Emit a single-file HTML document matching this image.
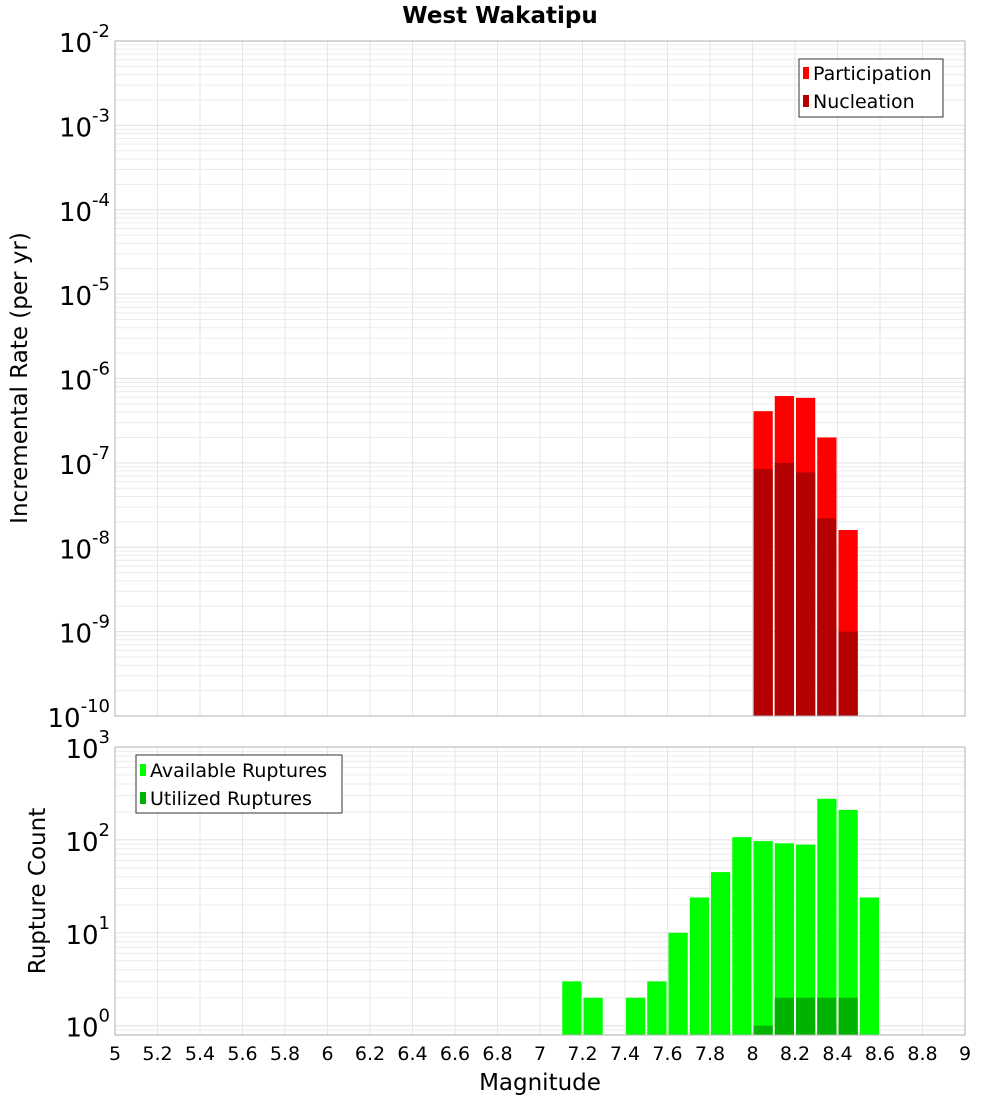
<!DOCTYPE html>
<html><head><meta charset="utf-8"><style>
body{margin:0;background:#fff;font-family:"Liberation Sans","DejaVu Sans",sans-serif}
svg text{font-family:"DejaVu Sans","Liberation Sans",sans-serif}
</style></head><body>
<svg id="c" width="1000" height="1100" xmlns="http://www.w3.org/2000/svg"></svg>
<script>
const mags=[8.05,8.15,8.25,8.35,8.45];
const participation=[4.1e-7,6.2e-7,5.9e-7,2.0e-7,1.6e-8];
const nucleation=[8.5e-8,1.0e-7,7.7e-8,2.2e-8,1.0e-9];
const countMags=[7.15,7.25,7.45,7.55,7.65,7.75,7.85,7.95,8.05,8.15,8.25,8.35,8.45,8.55];
const available=[3,2,2,3,10,24,45,107,97,92,89,277,210,24];
const utilMags=[8.05,8.15,8.25,8.35,8.45];
const utilized=[1,2,2,2,2];
const xTicks=[5,5.2,5.4,5.6,5.8,6,6.2,6.4,6.6,6.8,7,7.2,7.4,7.6,7.8,8,8.2,8.4,8.6,8.8,9];
const topExp=[-2,-3,-4,-5,-6,-7,-8,-9,-10];
const botExp=[3,2,1,0];

const NS="http://www.w3.org/2000/svg";
const svg=document.getElementById('c');
function el(t,a,p){const e=document.createElementNS(NS,t);for(const k in a)e.setAttribute(k,a[k]);(p||svg).appendChild(e);return e;}
const X0=115,X1=965;
const x=m=>X0+(m-5)/4*(X1-X0);
const T0=41,T1=716;
const yT=v=>T0+84.375*(-2-Math.log10(v));
const B0=747,B1=1035;
const yB=v=>1025.7-92.9*Math.log10(v);

function grid(top,bot,yf,lo,hi){
  const g=el('g',{});
  
  
  for(let e=lo;e<hi;e++)for(let k=1;k<10;k++){const v=k*Math.pow(10,e);const yy=yf(v);if(yy<top-0.5||yy>bot+0.5)continue;
    el('line',{x1:X0,x2:X1,y1:yy,y2:yy,stroke:k==1?'#e0e0e0':'#ececec','stroke-width':1},g);}
  xTicks.forEach(t=>el('line',{x1:x(t),x2:x(t),y1:top,y2:bot,stroke:'#e6e6e6'},g));
}
grid(T0,T1,yT,-10,-1);
grid(B0,B1,yB,-1,3);

const w=(x(5.1)-x(5))-2;
mags.forEach((m,i)=>{
  const r=el('rect',{x:x(m)-w/2,y:yT(participation[i]),width:w,height:T1-yT(participation[i]),fill:'#ff0000'});
  
  
});
mags.forEach((m,i)=>{
  const r=el('rect',{x:x(m)-w/2,y:yT(nucleation[i]),width:w,height:T1-yT(nucleation[i]),fill:'#b30000'});
  
  
});
countMags.forEach((m,i)=>{
  const r=el('rect',{x:x(m)-w/2,y:yB(available[i]),width:w,height:B1-yB(available[i]),fill:'#00ff00'});
  
  
});
utilMags.forEach((m,i)=>{
  const r=el('rect',{x:x(m)-w/2,y:yB(utilized[i]),width:w,height:B1-yB(utilized[i]),fill:'#00b300'});
  
  
});

el('rect',{x:X0,y:T0,width:X1-X0,height:T1-T0,fill:'none',stroke:'#b0b0b0'});
el('rect',{x:X0,y:B0,width:X1-X0,height:B1-B0,fill:'none',stroke:'#b0b0b0'});

function ylab(yy,e){
  const t=el('text',{x:110,y:yy+11,'text-anchor':'end','font-size':26,fill:'#000'});
  
  
  t.textContent='10';
  const s=el('tspan',{dy:-15,'font-size':18},t);s.textContent=String(e);
}
topExp.forEach(e=>ylab(yT(Math.pow(10,e)),e));
botExp.forEach(e=>ylab(yB(Math.pow(10,e)),e));

xTicks.forEach(t=>{
  const tx=el('text',{x:x(t),y:1060,'text-anchor':'middle','font-size':19,fill:'#000'});
  
  
  tx.textContent=String(t);
});
</script>
<div style="position:absolute;left:0;top:0;width:1000px;height:1100px;pointer-events:none">
<svg width="1000" height="1100" xmlns="http://www.w3.org/2000/svg" style="position:absolute;left:0;top:0">
<text x="500" y="23" text-anchor="middle" font-size="23" font-weight="bold" font-family="DejaVu Sans, sans-serif">West Wakatipu</text>
<text x="540" y="1090" text-anchor="middle" font-size="23" font-family="DejaVu Sans, sans-serif">Magnitude</text>
<text transform="translate(27,378) rotate(-90)" text-anchor="middle" font-size="23" font-family="DejaVu Sans, sans-serif">Incremental Rate (per yr)</text>
<text transform="translate(45,891) rotate(-90)" text-anchor="middle" font-size="23" font-family="DejaVu Sans, sans-serif">Rupture Count</text>
<g font-family="DejaVu Sans, sans-serif" font-size="19">
<rect x="799" y="59" width="144" height="58" fill="#fff" stroke="#333"/>
<rect x="803" y="67" width="6" height="12" fill="#ff0000"/><text x="813" y="80">Participation</text>
<rect x="803" y="95" width="6" height="12" fill="#b30000"/><text x="813" y="108">Nucleation</text>
</g>
<g font-family="DejaVu Sans, sans-serif" font-size="19">
<rect x="136" y="755" width="206" height="58" fill="#fff" stroke="#333"/>
<rect x="140" y="764" width="6" height="12" fill="#00ff00"/><text x="150" y="777">Available Ruptures</text>
<rect x="140" y="792" width="6" height="12" fill="#00b300"/><text x="150" y="805">Utilized Ruptures</text>
</g>
</svg></div>
</body></html>
